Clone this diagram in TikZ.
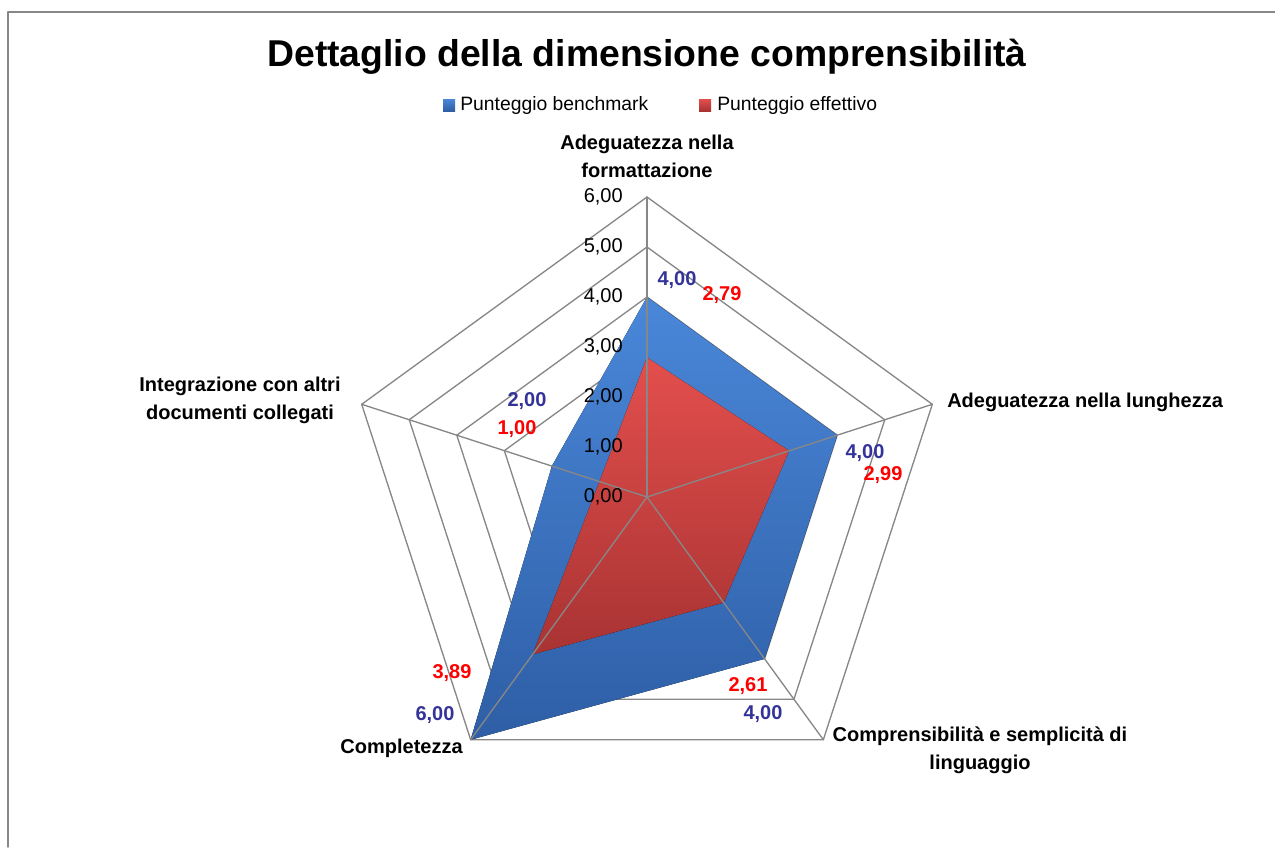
\documentclass[tikz,border=0pt]{standalone}
\usepackage{fontspec}
\setmainfont{Liberation Sans}
\usetikzlibrary{positioning}
\definecolor{qqqq99}{rgb}{0.2,0.2,0.6}
\definecolor{ffqqqq}{rgb}{1.,0.,0.}
\definecolor{uuuuuu}{rgb}{0.53,0.53,0.53}
\definecolor{bluetop}{rgb}{0.29,0.53,0.85}
\definecolor{bluebot}{rgb}{0.18,0.37,0.65}
\definecolor{redtop}{rgb}{0.89,0.31,0.30}
\definecolor{redbot}{rgb}{0.66,0.20,0.20}

\begin{document}
\begin{tikzpicture}[line cap=round,line join=round,x=0.75pt,y=0.75pt,
  gridline/.style={draw=uuuuuu,line width=1pt},
  catlabel/.style={font=\bfseries\fontsize{15}{21}\selectfont,align=center,inner sep=0pt},
  ticklabel/.style={font=\fontsize{15}{18}\selectfont,anchor=east,inner sep=0pt},
  bval/.style={font=\bfseries\fontsize{15}{18}\selectfont,text=qqqq99,inner sep=0pt},
  rval/.style={font=\bfseries\fontsize{15}{18}\selectfont,text=ffqqqq,inner sep=0pt}]
\useasboundingbox (0,0) rectangle (1275,-847);
\draw [uuuuuu,line width=1pt] (8,-847) -- (8,-12) -- (1275,-12);
% title and legend
\node (title) at (647,-57) {\bfseries\fontsize{28}{32}\selectfont Dettaglio della dimensione comprensibilit\`a};
\node [minimum size=9pt,inner sep=0pt,top color=bluetop,bottom color=bluebot] (keyb) at (449,-105) {};
\node [anchor=west,inner sep=0pt,font=\fontsize{14.5}{17}\selectfont] (legb) at (460,-105) {Punteggio benchmark};
\node [minimum size=9pt,inner sep=0pt,top color=redtop,bottom color=redbot] (keyr) at (705,-105) {};
\node [anchor=west,inner sep=0pt,font=\fontsize{14.5}{17}\selectfont] (legr) at (717,-105) {Punteggio effettivo};
\begin{scope}[shift={(647,-497)}]
% rings
\foreach \r in {1,...,6}
  \draw [gridline] (90:50*\r) -- (18:50*\r) -- (-54:50*\r) -- (-126:50*\r) -- (162:50*\r) -- cycle;
% series
\coordinate (b1) at (90:200);
\coordinate (b2) at (18:200);
\coordinate (b3) at (-54:200);
\coordinate (b4) at (-126:300);
\coordinate (b5) at (162:100);
\coordinate (r1) at (90:139.5);
\coordinate (r2) at (18:149.5);
\coordinate (r3) at (-54:130.5);
\coordinate (r4) at (-126:194.5);
\coordinate (r5) at (162:50);
\fill [black!45,opacity=0.5,shift={(2,-5)}] (b1) -- (b2) -- (b3) -- (b4) -- (b5) -- cycle;
\fill [top color=bluetop,bottom color=bluebot] (b1) -- (b2) -- (b3) -- (b4) -- (b5) -- cycle;
\fill [black!45,opacity=0.4,shift={(1,-3)}] (r1) -- (r2) -- (r3) -- (r4) -- (r5) -- cycle;
\fill [top color=redtop,bottom color=redbot] (r1) -- (r2) -- (r3) -- (r4) -- (r5) -- cycle;
% spokes
\coordinate (o) at (0,0);
\foreach \a in {90,18,-54,-126,162}
  \draw [gridline] (o) -- (\a:300);
% axis values
\foreach \r in {0,...,6}
  \node [ticklabel] (tick\r) at (-24,50*\r) {\r,00};
% data labels
\node [bval] (vb1) at (30,217) {4,00};
\node [rval] (vr1) at (75,202) {2,79};
\node [bval] (vb2) at (218,44) {4,00};
\node [rval] (vr2) at (236,22) {2,99};
\node [bval] (vb3) at (116,-217) {4,00};
\node [rval] (vr3) at (101,-189) {2,61};
\node [bval] (vb4) at (-212,-218) {6,00};
\node [rval] (vr4) at (-195,-176) {3,89};
\node [bval] (vb5) at (-120,96) {2,00};
\node [rval] (vr5) at (-130,68) {1,00};
\end{scope}
% categories
\node [catlabel] (cat1) at (647,-156) {Adeguatezza nella\\formattazione};
\node [catlabel,anchor=west] (cat2) at (947,-402) {Adeguatezza nella lunghezza};
\node [catlabel] (cat3) at (980,-750) {Comprensibilit\`a e semplicit\`a di\\linguaggio};
\node [catlabel,anchor=east] (cat4) at (463,-748) {Completezza};
\node [catlabel] (cat5) at (240,-400) {Integrazione con altri\\documenti collegati};
\end{tikzpicture}
\end{document}
